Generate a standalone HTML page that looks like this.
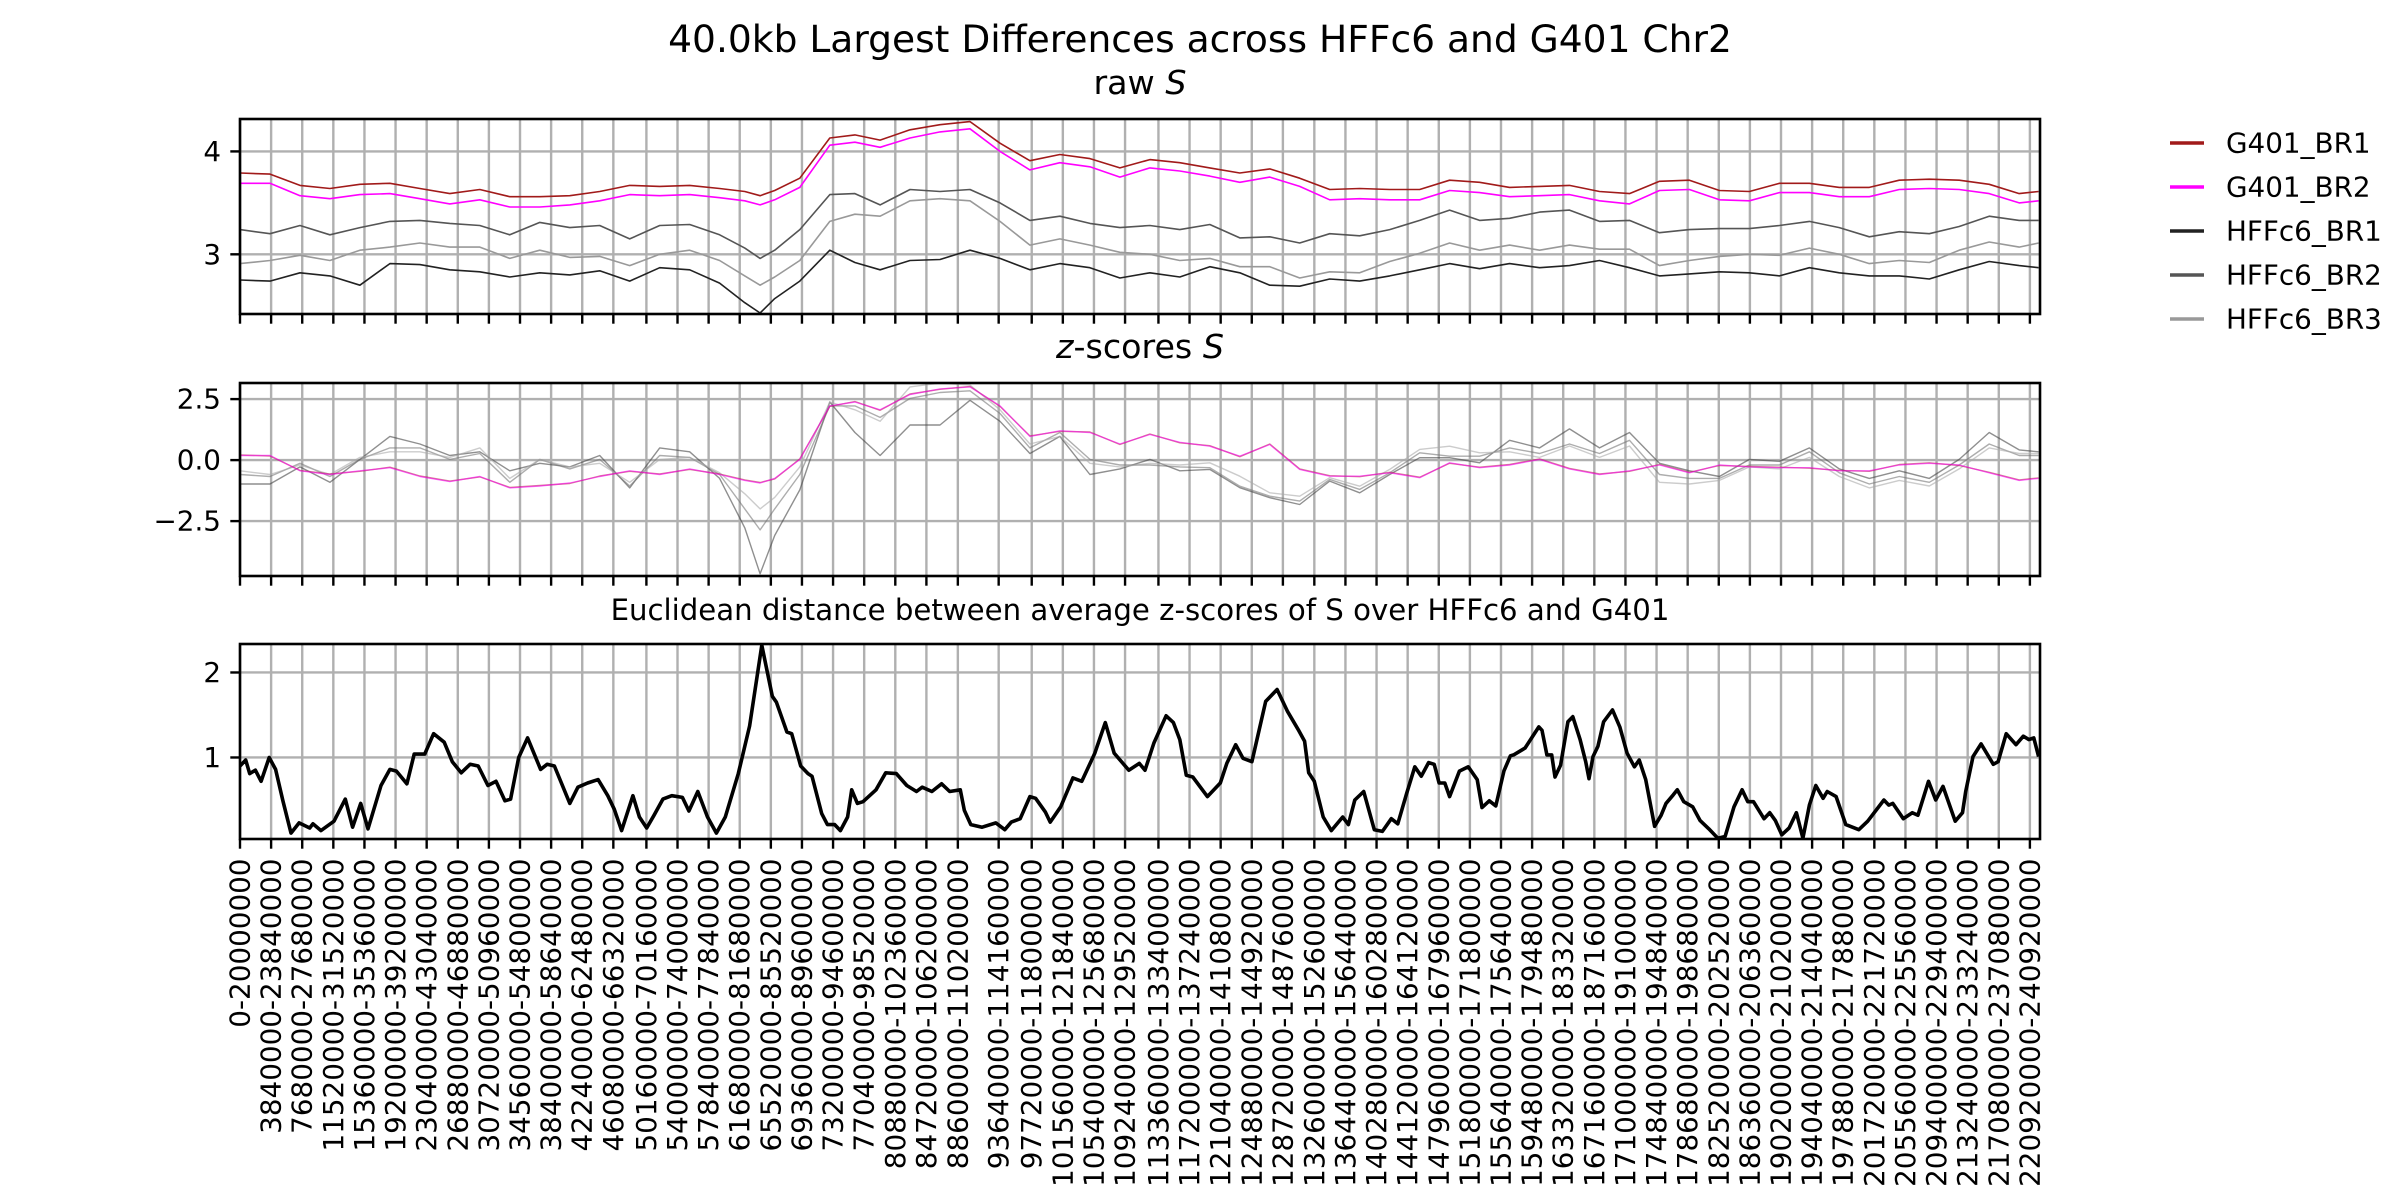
<!DOCTYPE html>
<html>
<head>
<meta charset="utf-8">
<style>
html,body{margin:0;padding:0;background:#fff;}
svg{display:block;font-family:"DejaVu Sans","Liberation Sans",sans-serif;}
</style>
</head>
<body>
<svg id="fig" width="2400" height="1200" viewBox="0 0 2400 1200" xmlns="http://www.w3.org/2000/svg">
<rect x="0" y="0" width="2400" height="1200" fill="#fff"/>
<text x="1200" y="52" text-anchor="middle" font-size="37.6">40.0kb Largest Differences across HFFc6 and G401 Chr2</text>
<text x="1140" y="94" text-anchor="middle" font-size="33.3">raw <tspan font-style="italic">S</tspan></text>
<text x="1140" y="358" text-anchor="middle" font-size="33.3"><tspan font-style="italic">z</tspan>-scores <tspan font-style="italic">S</tspan></text>
<text x="1140" y="620" text-anchor="middle" font-size="29.2">Euclidean distance between average z-scores of S over HFFc6 and G401</text>
<g id="legend"></g>
</svg>
<script>
// ---- data ----
const tickStarts = [0,3840000,7680000,11520000,15360000,19200000,23040000,26880000,30720000,34560000,38400000,42240000,46080000,50160000,54000000,57840000,61680000,65520000,69360000,73200000,77040000,80880000,84720000,88600000,93640000,97720000,101560000,105400000,109240000,113360000,117200000,121040000,124880000,128720000,132600000,136440000,140280000,144120000,147960000,151800000,155640000,159480000,163320000,167160000,171000000,174840000,178680000,182520000,186360000,190200000,194040000,197880000,201720000,205560000,209400000,213240000,217080000,220920000];
const tickEnds = [20000000,23840000,27680000,31520000,35360000,39200000,43040000,46880000,50960000,54800000,58640000,62480000,66320000,70160000,74000000,77840000,81680000,85520000,89600000,94600000,98520000,102360000,106200000,110200000,114160000,118000000,121840000,125680000,129520000,133400000,137240000,141080000,144920000,148760000,152600000,156440000,160280000,164120000,167960000,171800000,175640000,179480000,183320000,187160000,191000000,194840000,198680000,202520000,206360000,210200000,214040000,217880000,221720000,225560000,229400000,233240000,237080000,240920000];

const posMb = [0,3.7,7.4,11.1,14.8,18.5,22.2,25.9,29.6,33.3,37.0,40.7,44.4,48.1,51.8,55.5,59.2,62.3,64.2,66.0,69.1,72.8,75.9,79.0,82.7,86.4,90.1,93.8,97.5,101.2,104.9,108.6,112.3,116.0,119.7,123.4,127.1,130.8,134.5,138.2,141.9,145.6,149.3,153.0,156.7,160.4,164.1,167.8,171.5,175.2,178.9,182.6,186.3,190.0,193.7,197.4,201.1,204.8,208.5,212.2,215.9,219.6,222.0];

const rawG401BR1 = [3.79,3.78,3.67,3.64,3.68,3.69,3.64,3.59,3.63,3.56,3.56,3.57,3.61,3.67,3.66,3.67,3.64,3.61,3.57,3.62,3.74,4.13,4.16,4.11,4.21,4.26,4.29,4.08,3.91,3.97,3.93,3.84,3.92,3.89,3.84,3.79,3.83,3.74,3.63,3.64,3.63,3.63,3.72,3.70,3.65,3.66,3.67,3.61,3.59,3.71,3.72,3.62,3.61,3.69,3.69,3.65,3.65,3.72,3.73,3.72,3.68,3.59,3.61];
const rawG401BR2 = [3.69,3.69,3.57,3.54,3.58,3.59,3.54,3.49,3.53,3.46,3.46,3.48,3.52,3.58,3.57,3.58,3.55,3.52,3.48,3.53,3.65,4.06,4.09,4.04,4.13,4.19,4.22,4.00,3.82,3.89,3.85,3.75,3.84,3.81,3.76,3.70,3.75,3.66,3.53,3.54,3.53,3.53,3.62,3.60,3.56,3.57,3.58,3.52,3.49,3.62,3.63,3.53,3.52,3.60,3.60,3.56,3.56,3.63,3.64,3.63,3.59,3.50,3.52];
const rawHFFc6BR1 = [2.75,2.74,2.82,2.79,2.70,2.91,2.90,2.85,2.83,2.78,2.82,2.80,2.84,2.74,2.87,2.85,2.72,2.53,2.43,2.57,2.74,3.04,2.92,2.85,2.94,2.95,3.04,2.96,2.85,2.91,2.87,2.77,2.82,2.78,2.88,2.82,2.70,2.69,2.76,2.74,2.79,2.85,2.91,2.86,2.91,2.87,2.89,2.94,2.87,2.79,2.81,2.83,2.82,2.79,2.87,2.82,2.79,2.79,2.76,2.85,2.93,2.89,2.87];
const rawHFFc6BR2 = [3.24,3.20,3.28,3.19,3.26,3.32,3.33,3.30,3.28,3.19,3.31,3.26,3.28,3.15,3.28,3.29,3.19,3.06,2.96,3.04,3.24,3.58,3.59,3.48,3.63,3.61,3.63,3.50,3.33,3.37,3.30,3.26,3.28,3.24,3.29,3.16,3.17,3.11,3.20,3.18,3.24,3.33,3.43,3.33,3.35,3.41,3.43,3.32,3.33,3.21,3.24,3.25,3.25,3.28,3.32,3.26,3.17,3.22,3.20,3.27,3.37,3.33,3.33];
const rawHFFc6BR3 = [2.91,2.94,2.99,2.94,3.04,3.07,3.11,3.07,3.07,2.96,3.04,2.97,2.98,2.89,3.00,3.04,2.94,2.79,2.70,2.78,2.94,3.32,3.39,3.37,3.52,3.54,3.52,3.32,3.09,3.15,3.09,3.02,3.00,2.94,2.96,2.88,2.88,2.77,2.83,2.82,2.93,3.01,3.11,3.04,3.09,3.04,3.09,3.05,3.05,2.89,2.94,2.98,3.00,2.99,3.06,3.00,2.91,2.94,2.92,3.04,3.12,3.07,3.11];

const zG401BR1 = [0.21,0.17,-0.42,-0.57,-0.46,-0.29,-0.65,-0.86,-0.69,-1.12,-1.04,-0.96,-0.65,-0.46,-0.57,-0.38,-0.57,-0.81,-0.92,-0.77,0.05,2.20,2.40,2.04,2.71,2.90,3.02,2.20,0.99,1.18,1.15,0.64,1.07,0.71,0.59,0.14,0.66,-0.36,-0.64,-0.68,-0.50,-0.70,-0.13,-0.29,-0.18,0.05,-0.34,-0.57,-0.46,-0.18,-0.50,-0.22,-0.26,-0.29,-0.33,-0.42,-0.46,-0.18,-0.11,-0.22,-0.50,-0.81,-0.73];
const zG401BR2 = [0.19,0.19,-0.44,-0.59,-0.44,-0.31,-0.67,-0.88,-0.67,-1.14,-1.06,-0.94,-0.67,-0.44,-0.59,-0.36,-0.59,-0.83,-0.94,-0.75,0.03,2.22,2.38,2.06,2.69,2.92,3.0,2.22,0.97,1.20,1.13,0.66,1.05,0.73,0.57,0.16,0.64,-0.38,-0.66,-0.66,-0.52,-0.72,-0.11,-0.31,-0.20,0.03,-0.36,-0.59,-0.44,-0.20,-0.52,-0.20,-0.28,-0.31,-0.31,-0.44,-0.44,-0.20,-0.13,-0.20,-0.52,-0.83,-0.75];
const zHFFc6BR1 = [-0.98,-0.98,-0.28,-0.91,0.03,0.97,0.66,0.19,0.34,-0.44,-0.13,-0.28,0.19,-1.14,0.50,0.34,-0.75,-2.78,-4.66,-3.09,-1.22,2.38,1.13,0.19,1.44,1.44,2.45,1.59,0.27,0.97,-0.59,-0.36,0.03,-0.44,-0.38,-1.13,-1.54,-1.82,-0.86,-1.34,-0.59,0.10,0.10,-0.11,0.81,0.50,1.28,0.50,1.13,-0.13,-0.44,-0.67,0.03,-0.05,0.50,-0.36,-0.75,-0.44,-0.75,0.03,1.13,0.42,0.34];
const zHFFc6BR2 = [-0.59,-0.67,-0.13,-0.67,0.03,0.50,0.50,0.03,0.27,-0.91,0.03,-0.36,0.03,-1.06,0.19,0.11,-0.59,-2.0,-2.86,-2.0,-0.59,2.22,2.22,1.75,2.53,2.77,2.84,1.91,0.50,1.13,0.03,-0.20,-0.20,-0.28,-0.31,-1.07,-1.48,-1.68,-0.79,-1.20,-0.52,0.30,0.16,0.16,0.50,0.27,0.66,0.27,0.81,-0.59,-0.75,-0.75,-0.20,-0.20,0.34,-0.52,-0.98,-0.67,-0.91,-0.20,0.66,0.19,0.19];
const zHFFc6BR3 = [-0.44,-0.59,-0.20,-0.59,0.11,0.34,0.34,0.11,0.50,-0.75,0.03,-0.28,-0.13,-0.91,0.03,0.11,-0.52,-1.38,-2.0,-1.53,-0.28,2.38,2.06,1.59,3.0,3.16,3.08,2.06,0.66,0.97,-0.13,-0.28,-0.13,-0.20,-0.11,-0.66,-1.34,-1.48,-0.72,-1.07,-0.38,0.44,0.57,0.30,0.34,0.11,0.58,0.11,0.58,-0.91,-0.98,-0.83,-0.28,-0.36,0.11,-0.67,-1.14,-0.83,-1.06,-0.36,0.50,0.27,0.27];

const distPosMb = [0,0.7,1.2,1.9,2.6,3.6,4.4,5.3,6.3,7.3,8.6,9.0,10.0,11.6,13.0,13.9,14.9,15.8,17.4,18.5,19.3,20.6,21.5,22.8,23.9,25.2,26.2,27.3,28.4,29.4,30.6,31.6,32.7,33.4,34.4,35.5,37.1,37.9,38.8,40.7,41.7,42.9,44.2,45.4,46.2,47.1,48.5,49.3,50.2,51.1,52.2,53.3,54.6,55.4,56.5,57.7,58.8,59.9,61.5,62.9,64.4,65.7,66.2,67.5,68.1,69.2,70.1,70.6,71.8,72.5,73.4,74.1,75.0,75.5,76.2,76.9,78.5,79.7,81.0,82.3,83.5,84.2,85.4,86.6,87.6,88.9,89.4,90.2,91.6,93.3,94.4,95.2,96.3,97.5,98.2,99.4,100.0,101.3,102.8,103.9,105.5,106.8,107.9,109.7,111.0,111.7,112.8,114.3,115.2,116.0,116.8,117.6,119.4,121.0,121.8,122.9,123.8,124.9,126.6,128.0,129.3,130.6,131.4,131.9,132.6,133.7,134.7,136.1,136.8,137.6,138.7,140.0,141.0,142.1,142.9,144.0,145.0,145.8,146.7,147.4,148.0,148.7,149.3,150.5,151.6,152.7,153.3,154.2,155.0,156.0,156.8,157.2,158.6,160.3,160.7,161.3,161.9,162.3,163.0,163.9,164.5,165.4,166.1,166.5,167.0,167.6,168.3,169.4,170.3,171.2,172.1,172.7,173.5,174.6,175.4,176.0,176.9,177.4,178.2,179.3,180.2,181.3,182.4,183.3,184.4,185.4,186.1,186.8,188.1,188.8,189.5,190.3,191.2,192.1,192.9,193.7,194.5,195.4,195.9,197.0,198.2,199.8,200.9,202.9,203.5,204.0,205.3,206.4,207.1,208.4,209.3,210.2,211.7,212.6,213.0,213.9,214.9,216.4,217.0,218.0,219.2,220.1,220.8,221.4,222.0];
const distValues = [.90,.97,.81,.85,.72,1.0,.86,.49,.11,.23,.17,.22,.14,.25,.51,.18,.46,.16,.67,.86,.84,.69,1.04,1.04,1.28,1.18,.95,.82,.92,.90,.67,.72,.49,.51,1.0,1.23,.86,.92,.90,.46,.65,.70,.74,.55,.39,.14,.55,.30,.17,.32,.51,.55,.53,.37,.60,.30,.11,.30,.81,1.37,2.32,1.72,1.65,1.30,1.28,.90,.81,.78,.34,.21,.21,.14,.30,.62,.46,.48,.62,.82,.81,.67,.60,.65,.60,.69,.60,.62,.38,.21,.18,.23,.15,.24,.28,.54,.52,.36,.24,.42,.76,.72,1.05,1.41,1.05,.85,.93,.85,1.17,1.49,1.41,1.21,.79,.77,.54,.70,.93,1.15,.99,.95,1.66,1.80,1.54,1.33,1.19,.82,.72,.30,.14,.30,.21,.50,.60,.15,.13,.28,.22,.58,.89,.78,.94,.92,.70,.70,.54,.84,.89,.74,.41,.49,.43,.84,1.02,1.03,1.11,1.36,1.32,1.03,1.03,.77,.91,1.42,1.48,1.21,.95,.75,1.01,1.13,1.42,1.56,1.36,1.05,.89,.97,.74,.19,.32,.46,.56,.62,.48,.42,.26,.16,.05,.07,.42,.62,.48,.48,.28,.35,.26,.09,.17,.35,.05,.44,.67,.52,.60,.54,.21,.15,.25,.50,.44,.46,.28,.35,.32,.72,.50,.66,.25,.35,.60,1.01,1.16,.92,.95,1.28,1.15,1.25,1.21,1.23,1.01];

const rawTicks = [3,4];
const rawTickLabels = ["3","4"];
const zTicks = [-2.5,0,2.5];
const zTickLabels = ["\u22122.5","0.0","2.5"];
const distTicks = [1,2];
const distTickLabels = ["1","2"];
const legendLabels = ["G401_BR1","G401_BR2","HFFc6_BR1","HFFc6_BR2","HFFc6_BR3"];

// ---- layout ----
const NS = "http://www.w3.org/2000/svg";
const svg = document.getElementById('fig');
const X0 = 240, X1 = 2040, MB_MAX = 1800 / 8.102;
function xScale(mb){ return X0 + (mb / MB_MAX) * (X1 - X0); }
function mk(tag, attrs, parent){
  const e = document.createElementNS(NS, tag);
  for (const k in attrs) e.setAttribute(k, attrs[k]);
  (parent || svg).appendChild(e);
  return e;
}
const panels = [
  {key:'raw', top:119, bottom:314, min:2.42, max:4.315, ticks:rawTicks, labels:rawTickLabels},
  {key:'zscore', top:383, bottom:576, min:-4.75, max:3.16, ticks:zTicks, labels:zTickLabels},
  {key:'distance', top:644, bottom:839, min:0.041, max:2.335, ticks:distTicks, labels:distTickLabels}
];
panels.forEach(p => { p.y = v => p.bottom - (v - p.min) / (p.max - p.min) * (p.bottom - p.top); });

const defs = mk('defs', {});
panels.forEach((p, i) => {
  const cp = mk('clipPath', {id:'clip' + i}, defs);
  mk('rect', {x:X0, y:p.top, width:X1 - X0, height:p.bottom - p.top}, cp);

  const g = mk('g', {});
  
  

  tickStarts.forEach((s, j) => {
    const x = xScale(s / 1e6);
    const gl = mk('line', {x1:x, x2:x, y1:p.top, y2:p.bottom, stroke:'#b0b0b0', 'stroke-width':2.4}, g);
    
    
    const tk = mk('line', {x1:x, x2:x, y1:p.bottom, y2:p.bottom + 9.7, stroke:'#000', 'stroke-width':2.4}, g);
    
    
    if (i === 2) {
      const lbl = mk('text', {transform:'translate(' + x + ',' + (p.bottom + 19.5) + ') rotate(-90)', 'text-anchor':'end', 'dominant-baseline':'central', 'font-size':27.8}, g);
      lbl.textContent = s + '-' + tickEnds[j];
      
      
    }
  });
  p.ticks.forEach((t, j) => {
    const y = p.y(t);
    const gl = mk('line', {x1:X0, x2:X1, y1:y, y2:y, stroke:'#b0b0b0', 'stroke-width':2.4}, g);
    
    
    const tk = mk('line', {x1:X0 - 9.7, x2:X0, y1:y, y2:y, stroke:'#000', 'stroke-width':2.4}, g);
    
    
    const lbl = mk('text', {x:X0 - 19, y:y, 'text-anchor':'end', 'dominant-baseline':'central', 'font-size':27.8}, g);
    lbl.textContent = p.labels[j];
    
    
  });
  p.g = g;
});

function drawLine(p, idx, xs, ys, color, width, opacity, name){
  const n = Math.min(xs.length, ys.length);
  let d = '';
  for (let k = 0; k < n; k++) d += (k ? 'L' : 'M') + xScale(xs[k]).toFixed(1) + ',' + p.y(ys[k]).toFixed(1);
  const path = mk('path', {d:d, fill:'none', stroke:color, 'stroke-width':width, 'stroke-opacity':opacity, 'stroke-linejoin':'round', 'clip-path':'url(#clip' + idx + ')'}, p.g);
  
  
}
const P = panels;
drawLine(P[0], 0, posMb, rawHFFc6BR3, '#999999', 1.6, 1, 'raw-hffc6-br3-line');
drawLine(P[0], 0, posMb, rawHFFc6BR2, '#555555', 1.6, 1, 'raw-hffc6-br2-line');
drawLine(P[0], 0, posMb, rawHFFc6BR1, '#222222', 1.6, 1, 'raw-hffc6-br1-line');
drawLine(P[0], 0, posMb, rawG401BR1, '#a11a1a', 1.6, 1, 'raw-g401-br1-line');
drawLine(P[0], 0, posMb, rawG401BR2, '#ff00ff', 1.6, 1, 'raw-g401-br2-line');

drawLine(P[1], 1, posMb, zHFFc6BR1, '#444444', 1.4, 0.6, 'z-hffc6-br1-line');
drawLine(P[1], 1, posMb, zHFFc6BR2, '#777777', 1.4, 0.6, 'z-hffc6-br2-line');
drawLine(P[1], 1, posMb, zHFFc6BR3, '#aaaaaa', 1.4, 0.6, 'z-hffc6-br3-line');
drawLine(P[1], 1, posMb, zG401BR1, '#a11a1a', 1.4, 0.5, 'z-g401-br1-line');
drawLine(P[1], 1, posMb, zG401BR2, '#ff00ff', 1.4, 0.55, 'z-g401-br2-line');

drawLine(P[2], 2, distPosMb, distValues, '#000000', 3.6, 1, 'distance-line');

panels.forEach(p => {
  const r = mk('rect', {x:X0, y:p.top, width:X1 - X0, height:p.bottom - p.top, fill:'none', stroke:'#000', 'stroke-width':2.6}, p.g);
  
  
});

const legendColors = ['#a11a1a','#ff00ff','#222222','#555555','#999999'];
const lg = document.getElementById('legend');
legendLabels.forEach((t, j) => {
  const y = 143 + j * 44;
  const ln = mk('line', {x1:2170, x2:2204, y1:y, y2:y, stroke:legendColors[j], 'stroke-width':3.5}, lg);
  
  
  const tx = mk('text', {x:2226, y:y, 'dominant-baseline':'central', 'font-size':27.8}, lg);
  tx.textContent = t;
  
  
});
</script>
</body>
</html>
